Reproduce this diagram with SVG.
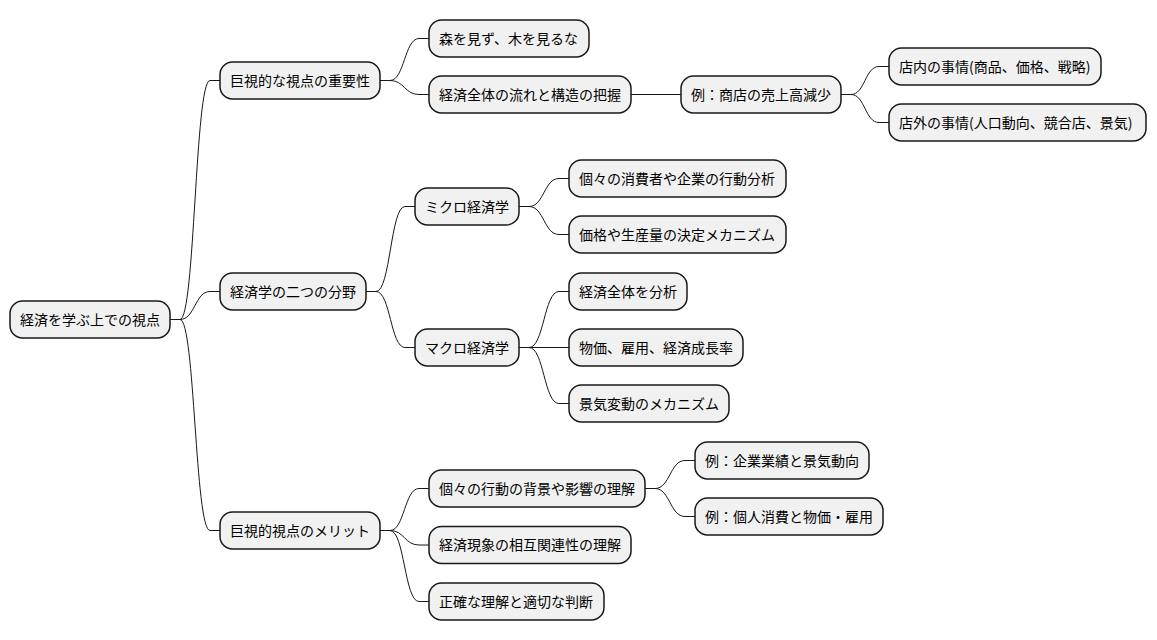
<svg xmlns="http://www.w3.org/2000/svg" width="1157" height="640" viewBox="0 0 1157 640">
<style>
.box{fill:#F1F1F1;stroke:#181818;stroke-width:1.5}
.t{font-family:"Noto Sans CJK JP","Noto Sans",sans-serif;font-size:14px;fill:#000000}
.c{fill:none;stroke:#181818;stroke-width:1}
</style>
<rect width="1157" height="640" fill="#FFFFFF"/>
<g id="connectors">
<path class="c" d="M170,319.5 L180,319.5 C195,319.5 195,80.5 210,80.5 L220,80.5"/>
<path class="c" d="M170,319.5 L180,319.5 C195,319.5 195,291.5 210,291.5 L220,291.5"/>
<path class="c" d="M170,319.5 L180,319.5 C195,319.5 195,530.5 210,530.5 L220,530.5"/>
<path class="c" d="M380,80.5 L390,80.5 C404.5,80.5 404.5,38.5 419,38.5 L429,38.5"/>
<path class="c" d="M380,80.5 L390,80.5 C404.5,80.5 404.5,94.5 419,94.5 L429,94.5"/>
<path class="c" d="M631,94.5 L681,94.5"/>
<path class="c" d="M841,94.5 L851,94.5 C865,94.5 865,66.5 879,66.5 L889,66.5"/>
<path class="c" d="M841,94.5 L851,94.5 C865,94.5 865,122.5 879,122.5 L889,122.5"/>
<path class="c" d="M366,291.5 L376,291.5 C390.5,291.5 390.5,206.5 405,206.5 L415,206.5"/>
<path class="c" d="M366,291.5 L376,291.5 C390.5,291.5 390.5,347.5 405,347.5 L415,347.5"/>
<path class="c" d="M519,206.5 L529,206.5 C544,206.5 544,178.5 559,178.5 L569,178.5"/>
<path class="c" d="M519,206.5 L529,206.5 C544,206.5 544,234.5 559,234.5 L569,234.5"/>
<path class="c" d="M519,347.5 L529,347.5 C544,347.5 544,291.5 559,291.5 L569,291.5"/>
<path class="c" d="M519,347.5 L569,347.5"/>
<path class="c" d="M519,347.5 L529,347.5 C544,347.5 544,403.5 559,403.5 L569,403.5"/>
<path class="c" d="M380,530.5 L390,530.5 C404.5,530.5 404.5,488.5 419,488.5 L429,488.5"/>
<path class="c" d="M380,530.5 L390,530.5 C404.5,530.5 404.5,545 419,545 L429,545"/>
<path class="c" d="M380,530.5 L390,530.5 C404.5,530.5 404.5,601.5 419,601.5 L429,601.5"/>
<path class="c" d="M645,488.5 L655,488.5 C670,488.5 670,460.5 685,460.5 L695,460.5"/>
<path class="c" d="M645,488.5 L655,488.5 C670,488.5 670,516.5 685,516.5 L695,516.5"/>
</g>
<g id="root"><rect class="box" x="10" y="301" width="160" height="37" rx="12.5"/><text class="t" x="20" y="324.5">経済を学ぶ上での視点</text></g>
<g id="n1"><rect class="box" x="220" y="62" width="160" height="37" rx="12.5"/><text class="t" x="230" y="85.5">巨視的な視点の重要性</text></g>
<g id="n1a"><rect class="box" x="429" y="20" width="160" height="37" rx="12.5"/><text class="t" x="439" y="43.5">森を見ず、木を見るな</text></g>
<g id="n1b"><rect class="box" x="429" y="76" width="202" height="37" rx="12.5"/><text class="t" x="439" y="99.5">経済全体の流れと構造の把握</text></g>
<g id="n1b1"><rect class="box" x="681" y="76" width="160" height="37" rx="12.5"/><text class="t" x="691" y="99.5">例：商店の売上高減少</text></g>
<g id="n1b1a"><rect class="box" x="889" y="48" width="212" height="37" rx="12.5"/><text class="t" x="899" y="71.5">店内の事情(商品、価格、戦略)</text></g>
<g id="n1b1b"><rect class="box" x="889" y="104" width="257" height="37" rx="12.5"/><text class="t" x="899" y="127.5">店外の事情(人口動向、競合店、景気)</text></g>
<g id="n2"><rect class="box" x="220" y="273" width="146" height="37" rx="12.5"/><text class="t" x="230" y="296.5">経済学の二つの分野</text></g>
<g id="n2a"><rect class="box" x="415" y="188" width="104" height="37" rx="12.5"/><text class="t" x="425" y="211.5">ミクロ経済学</text></g>
<g id="n2a1"><rect class="box" x="569" y="160" width="217" height="37" rx="12.5"/><text class="t" x="579" y="183.5">個々の消費者や企業の行動分析</text></g>
<g id="n2a2"><rect class="box" x="569" y="216" width="217" height="37" rx="12.5"/><text class="t" x="579" y="239.5">価格や生産量の決定メカニズム</text></g>
<g id="n2b"><rect class="box" x="415" y="329" width="104" height="37" rx="12.5"/><text class="t" x="425" y="352.5">マクロ経済学</text></g>
<g id="n2b1"><rect class="box" x="569" y="273" width="118" height="37" rx="12.5"/><text class="t" x="579" y="296.5">経済全体を分析</text></g>
<g id="n2b2"><rect class="box" x="569" y="329" width="174" height="37" rx="12.5"/><text class="t" x="579" y="352.5">物価、雇用、経済成長率</text></g>
<g id="n2b3"><rect class="box" x="569" y="385" width="160" height="37" rx="12.5"/><text class="t" x="579" y="408.5">景気変動のメカニズム</text></g>
<g id="n3"><rect class="box" x="220" y="512" width="160" height="37" rx="12.5"/><text class="t" x="230" y="535.5">巨視的視点のメリット</text></g>
<g id="n3a"><rect class="box" x="429" y="470" width="216" height="37" rx="12.5"/><text class="t" x="439" y="493.5">個々の行動の背景や影響の理解</text></g>
<g id="n3a1"><rect class="box" x="695" y="442" width="174" height="37" rx="12.5"/><text class="t" x="705" y="465.5">例：企業業績と景気動向</text></g>
<g id="n3a2"><rect class="box" x="695" y="498" width="188" height="37" rx="12.5"/><text class="t" x="705" y="521.5">例：個人消費と物価・雇用</text></g>
<g id="n3b"><rect class="box" x="429" y="526.5" width="202" height="37" rx="12.5"/><text class="t" x="439" y="550">経済現象の相互関連性の理解</text></g>
<g id="n3c"><rect class="box" x="429" y="583" width="175" height="37" rx="12.5"/><text class="t" x="439" y="606.5">正確な理解と適切な判断</text></g>
</svg>
